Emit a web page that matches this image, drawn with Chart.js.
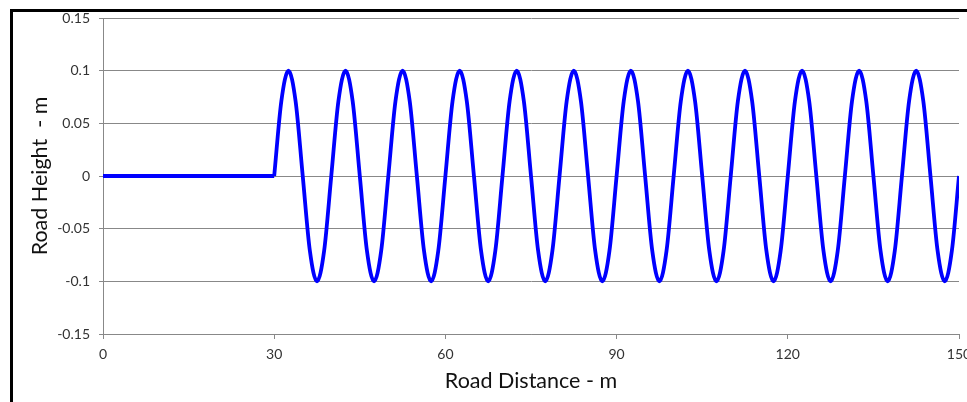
<!DOCTYPE html>
<html>
<head>
<meta charset="utf-8">
<script src="https://cdn.jsdelivr.net/npm/chart.js@4.4.1/dist/chart.umd.min.js"></script>
<style>
  html, body { margin: 0; padding: 0; background: #fff; }
  #wrap { position: relative; width: 967px; height: 402px; }
  canvas { display: block; }
</style>
</head>
<body>
<div id="wrap"><canvas id="c" width="967" height="402"></canvas></div>
<script>
// ---- data ----
const flatDistance = [0, 30];
const flatHeight = [0, 0];

const waveDistance = [
  30, 31.25, 32.5, 33.75, 35, 36.25, 37.5, 38.75,
  40, 41.25, 42.5, 43.75, 45, 46.25, 47.5, 48.75,
  50, 51.25, 52.5, 53.75, 55, 56.25, 57.5, 58.75,
  60, 61.25, 62.5, 63.75, 65, 66.25, 67.5, 68.75,
  70, 71.25, 72.5, 73.75, 75, 76.25, 77.5, 78.75,
  80, 81.25, 82.5, 83.75, 85, 86.25, 87.5, 88.75,
  90, 91.25, 92.5, 93.75, 95, 96.25, 97.5, 98.75,
  100, 101.25, 102.5, 103.75, 105, 106.25, 107.5, 108.75,
  110, 111.25, 112.5, 113.75, 115, 116.25, 117.5, 118.75,
  120, 121.25, 122.5, 123.75, 125, 126.25, 127.5, 128.75,
  130, 131.25, 132.5, 133.75, 135, 136.25, 137.5, 138.75,
  140, 141.25, 142.5, 143.75, 145, 146.25, 147.5, 148.75,
  150
];
const waveHeight = [
  0, 0.071, 0.1, 0.071, 0, -0.071, -0.1, -0.071,
  0, 0.071, 0.1, 0.071, 0, -0.071, -0.1, -0.071,
  0, 0.071, 0.1, 0.071, 0, -0.071, -0.1, -0.071,
  0, 0.071, 0.1, 0.071, 0, -0.071, -0.1, -0.071,
  0, 0.071, 0.1, 0.071, 0, -0.071, -0.1, -0.071,
  0, 0.071, 0.1, 0.071, 0, -0.071, -0.1, -0.071,
  0, 0.071, 0.1, 0.071, 0, -0.071, -0.1, -0.071,
  0, 0.071, 0.1, 0.071, 0, -0.071, -0.1, -0.071,
  0, 0.071, 0.1, 0.071, 0, -0.071, -0.1, -0.071,
  0, 0.071, 0.1, 0.071, 0, -0.071, -0.1, -0.071,
  0, 0.071, 0.1, 0.071, 0, -0.071, -0.1, -0.071,
  0, 0.071, 0.1, 0.071, 0, -0.071, -0.1, -0.071,
  0
];

const xTicks = [0, 30, 60, 90, 120, 150];
const yTicks = [-0.15, -0.1, -0.05, 0, 0.05, 0.1, 0.15];
const yTickLabels = ['-0.15', '-0.1', '-0.05', '0', '0.05', '0.1', '0.15'];

const xTitle = 'Road Distance - m';
const yTitle = 'Road Height  - m';

// ---- chart ----
const FONT = 'Lato';
const GRID = '#888888';

const toPoints = (xs, ys) => xs.map((x, i) => ({ x: x, y: ys[i] }));

const framePlugin = {
  id: 'frame',
  afterDraw(chart) {
    const ctx = chart.ctx;
    ctx.save();
    ctx.fillStyle = '#000';
    ctx.fillRect(10, 9, 967 - 10, 3);
    ctx.fillRect(10, 9, 3, 402 - 9);
    ctx.restore();
  }
};

new Chart(document.getElementById('c'), {
  type: 'line',
  data: {
    datasets: [
      {
        data: toPoints(flatDistance, flatHeight),
        borderColor: '#0000ff',
        borderWidth: 3.8,
        pointRadius: 0,
        tension: 0
      },
      {
        data: toPoints(waveDistance, waveHeight),
        borderColor: '#0000ff',
        borderWidth: 3.8,
        pointRadius: 0,
        cubicInterpolationMode: 'monotone'
      }
    ]
  },
  options: {
    responsive: false,
    animation: false,
    layout: { padding: { left: 0, right: 8, top: 18, bottom: 0 } },
    plugins: { legend: { display: false }, tooltip: { enabled: false } },
    scales: {
      x: {
        type: 'linear',
        min: 0,
        max: 150,
        afterBuildTicks(scale) { scale.ticks = xTicks.map(v => ({ value: v })); },
        afterFit(scale) {
          scale.height = 68;
          scale.paddingLeft = 0;
          scale.paddingRight = 0;
        },
        grid: { drawOnChartArea: false, drawTicks: true, tickLength: 5, color: GRID },
        border: { color: GRID, width: 1 },
        ticks: {
          padding: 7,
          maxRotation: 0,
          autoSkip: false,
          color: '#333',
          font: { family: FONT, size: 14 },
          callback: (v) => String(v)
        },
        title: {
          display: true,
          text: xTitle,
          color: '#111',
          font: { family: FONT, size: 21.5, lineHeight: 1.2 },
          padding: { top: 0, bottom: 8 }
        }
      },
      y: {
        type: 'linear',
        min: -0.15,
        max: 0.15,
        afterBuildTicks(scale) { scale.ticks = yTicks.map(v => ({ value: v })); },
        afterFit(scale) {
          scale.width = 103;
          scale.paddingTop = 0;
          scale.paddingBottom = 0;
        },
        grid: { drawTicks: true, tickLength: 4, color: GRID },
        border: { color: GRID, width: 1 },
        ticks: {
          padding: 9,
          autoSkip: false,
          color: '#333',
          font: { family: FONT, size: 14 },
          callback: (v) => {
            const i = yTicks.findIndex(t => Math.abs(t - v) < 1e-9);
            return i >= 0 ? yTickLabels[i] : '';
          }
        },
        title: {
          display: true,
          text: yTitle,
          color: '#111',
          font: { family: FONT, size: 21.5, lineHeight: 1.2 },
          padding: { top: 27, bottom: 0 }
        }
      }
    }
  },
  plugins: [framePlugin]
});
</script>
</body>
</html>
